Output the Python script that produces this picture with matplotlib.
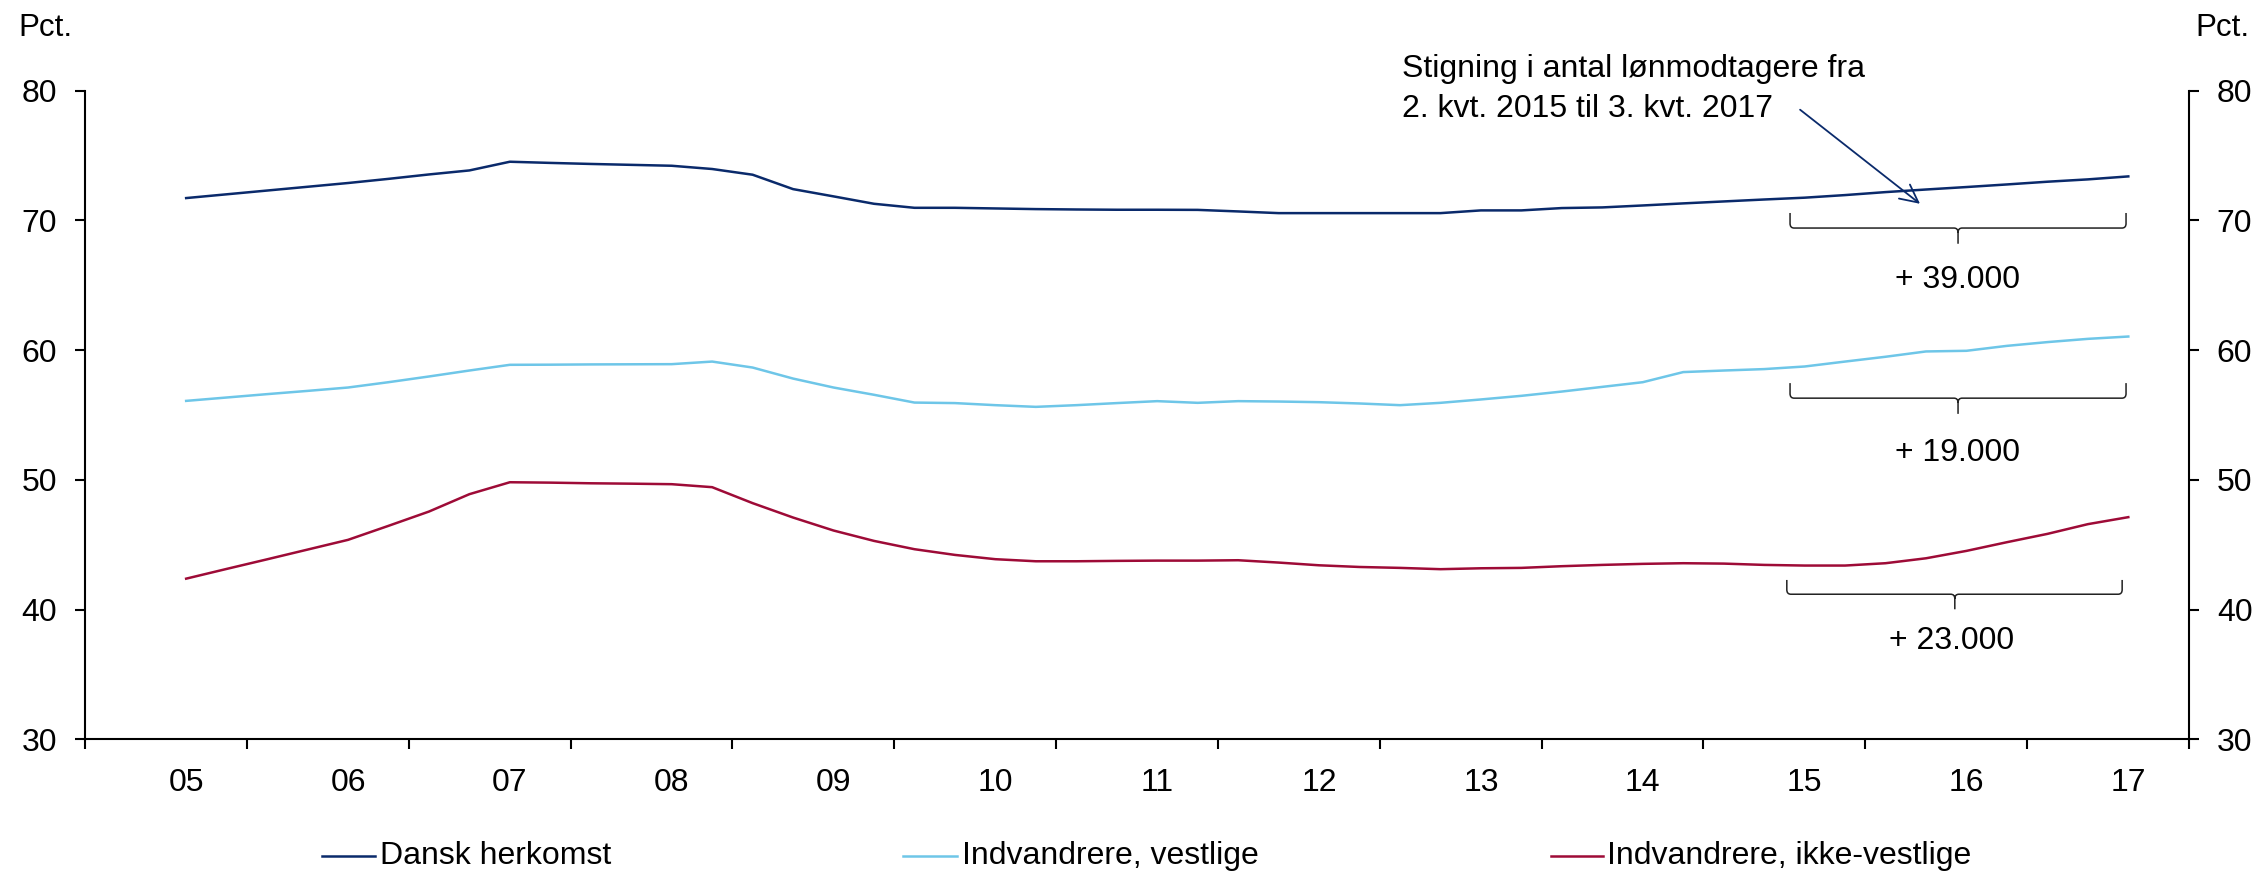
import matplotlib
matplotlib.use("Agg")
import matplotlib.pyplot as plt
from matplotlib.path import Path
from matplotlib.patches import PathPatch
from matplotlib.lines import Line2D
import pandas as pd

plt.rcParams['font.family'] = ['Liberation Sans', 'DejaVu Sans']

# ---------------- data ----------------
quarters = pd.period_range('2005Q3', '2017Q3', freq='Q')
series_names = ["Dansk herkomst", "Indvandrere, vestlige", "Indvandrere, ikke-vestlige"]
series_colors = ["#0A2A6B", "#6EC6E8", "#9E0B37"]

dansk = [71.71, 72.00, 72.29, 72.58, 72.87, 73.19, 73.53, 73.84, 74.51, 74.42,
         74.34, 74.27, 74.20, 73.95, 73.51, 72.40, 71.84, 71.27, 70.96, 70.96,
         70.91, 70.86, 70.83, 70.81, 70.81, 70.80, 70.68, 70.55, 70.55, 70.55,
         70.55, 70.55, 70.76, 70.76, 70.94, 70.99, 71.14, 71.30, 71.45, 71.60,
         71.74, 71.94, 72.17, 72.37, 72.56, 72.76, 72.97, 73.15, 73.38]
vestlige = [56.08, 56.34, 56.60, 56.85, 57.11, 57.52, 57.96, 58.42, 58.86, 58.87,
            58.89, 58.90, 58.91, 59.11, 58.65, 57.80, 57.11, 56.55, 55.95, 55.91,
            55.75, 55.62, 55.75, 55.91, 56.06, 55.93, 56.06, 56.03, 55.98, 55.88,
            55.75, 55.93, 56.19, 56.47, 56.80, 57.16, 57.52, 58.30, 58.42, 58.53,
            58.73, 59.11, 59.48, 59.89, 59.94, 60.32, 60.61, 60.86, 61.04]
ikke_vestlige = [42.38, 43.13, 43.87, 44.62, 45.37, 46.45, 47.55, 48.89, 49.81, 49.78,
                 49.73, 49.70, 49.66, 49.43, 48.20, 47.09, 46.09, 45.29, 44.65, 44.21,
                 43.88, 43.72, 43.72, 43.75, 43.77, 43.77, 43.80, 43.62, 43.41, 43.28,
                 43.21, 43.11, 43.18, 43.21, 43.34, 43.44, 43.52, 43.57, 43.54, 43.44,
                 43.39, 43.39, 43.57, 43.95, 44.52, 45.19, 45.83, 46.58, 47.12]

year_labels = ["05", "06", "07", "08", "09", "10", "11", "12", "13", "14", "15", "16", "17"]
increase_labels = ["+ 39.000", "+ 19.000", "+ 23.000"]
annotation_text = "Stigning i antal lønmodtagere fra\n2. kvt. 2015 til 3. kvt. 2017"

FS = 23

# ---------------- figure ----------------
W, H = 2259, 873
fig = plt.figure(figsize=(W / 100, H / 100), dpi=100)
ax = fig.add_axes([85 / W, 1 - 739.3 / H, (2189 - 85) / W, (739.3 - 90.5) / H])

x = [q.year + (q.quarter - 0.5) / 4 for q in quarters]
for vals, name, col in zip([dansk, vestlige, ikke_vestlige], series_names, series_colors):
    ax.plot(x, vals, color=col, lw=1.8, label=name, solid_joinstyle='round')

ax.set_xlim(2005, 2018)
ax.set_ylim(30, 80)
ax.set_yticks(range(30, 81, 10))

years = list(range(2005, 2005 + len(year_labels)))
ax.set_xticks(years + [2018])
ax.set_xticklabels([])
ax.set_xticks([y + 0.625 for y in years], minor=True)
ax.set_xticklabels(year_labels, minor=True)
ax.tick_params(axis='x', which='major', length=7, width=1.5, direction='out')
ax.tick_params(axis='x', which='minor', length=0, pad=21, labelsize=FS)
ax.tick_params(axis='y', which='major', length=7, width=1.5, direction='out', pad=13, labelsize=FS)

for s in ['top', 'right']:
    ax.spines[s].set_visible(False)
for s in ['left', 'bottom']:
    ax.spines[s].set_linewidth(1.5)

ax2 = ax.twinx()
ax2.set_ylim(30, 80)
ax2.set_yticks(range(30, 81, 10))
ax2.tick_params(axis='y', length=7, width=1.5, direction='out', pad=13, labelsize=FS)
for s in ['top', 'left', 'bottom']:
    ax2.spines[s].set_visible(False)
ax2.spines['right'].set_linewidth(1.5)

# Pct. labels
fig.text(18 / W, 1 - 28 / H, "Pct.", fontsize=22.5, ha='left', va='center')
fig.text(2250 / W, 1 - 28 / H, "Pct.", fontsize=22.5, ha='right', va='center')

# braces
def brace(axis, x0, x1, xm, ytop, yh, ytip, rx=0.025, ry=0.35):
    verts = [
        (x0, ytop), (x0, yh + ry),
        (x0, yh), (x0 + rx, yh),
        (xm - rx, yh),
        (xm, yh), (xm, yh - ry),
        (xm, ytip),
        (xm, yh - ry),
        (xm, yh), (xm + rx, yh),
        (x1 - rx, yh),
        (x1, yh), (x1, yh + ry),
        (x1, ytop),
    ]
    codes = [Path.MOVETO, Path.LINETO,
             Path.CURVE3, Path.CURVE3,
             Path.LINETO,
             Path.CURVE3, Path.CURVE3,
             Path.LINETO,
             Path.MOVETO,
             Path.CURVE3, Path.CURVE3,
             Path.LINETO,
             Path.CURVE3, Path.CURVE3,
             Path.LINETO]
    axis.add_patch(PathPatch(Path(verts, codes), fill=False, lw=1.1,
                             edgecolor='#222222', clip_on=False))

brace_specs = [
    (2015.535, 2017.611, 2016.573, 70.56, 69.40, 68.19),
    (2015.535, 2017.611, 2016.573, 57.45, 56.29, 55.08),
    (2015.515, 2017.587, 2016.553, 42.28, 41.18, 40.02),
]
label_pos = [(2016.567, 65.42), (2016.567, 52.07), (2016.536, 37.58)]
for spec, lab, pos in zip(brace_specs, increase_labels, label_pos):
    brace(ax, *spec)
    ax.text(pos[0], pos[1], lab, fontsize=FS, ha='center', va='center')

# annotation with arrow
fig.text(1402 / W, 1 - 89 / H, annotation_text, fontsize=FS, ha='left', va='center',
         linespacing=1.45)
ax.annotate("", xy=(2016.338, 71.27), xytext=(2015.597, 78.52),
            arrowprops=dict(arrowstyle='->', color=series_colors[0], lw=1.3,
                            mutation_scale=32, shrinkA=0, shrinkB=0))

# legend (manual, bottom)
leg_y = 1 - 856 / H
leg_pos = [(322, 375, 380), (903, 957, 962), (1551, 1603, 1607)]
for (l0, l1, t0), name, col in zip(leg_pos, series_names, series_colors):
    fig.add_artist(Line2D([l0 / W, l1 / W], [leg_y, leg_y], color=col, lw=1.8,
                          transform=fig.transFigure))
    fig.text(t0 / W, leg_y, name, fontsize=FS, ha='left', va='center')

fig.savefig("out.png", dpi=100)
